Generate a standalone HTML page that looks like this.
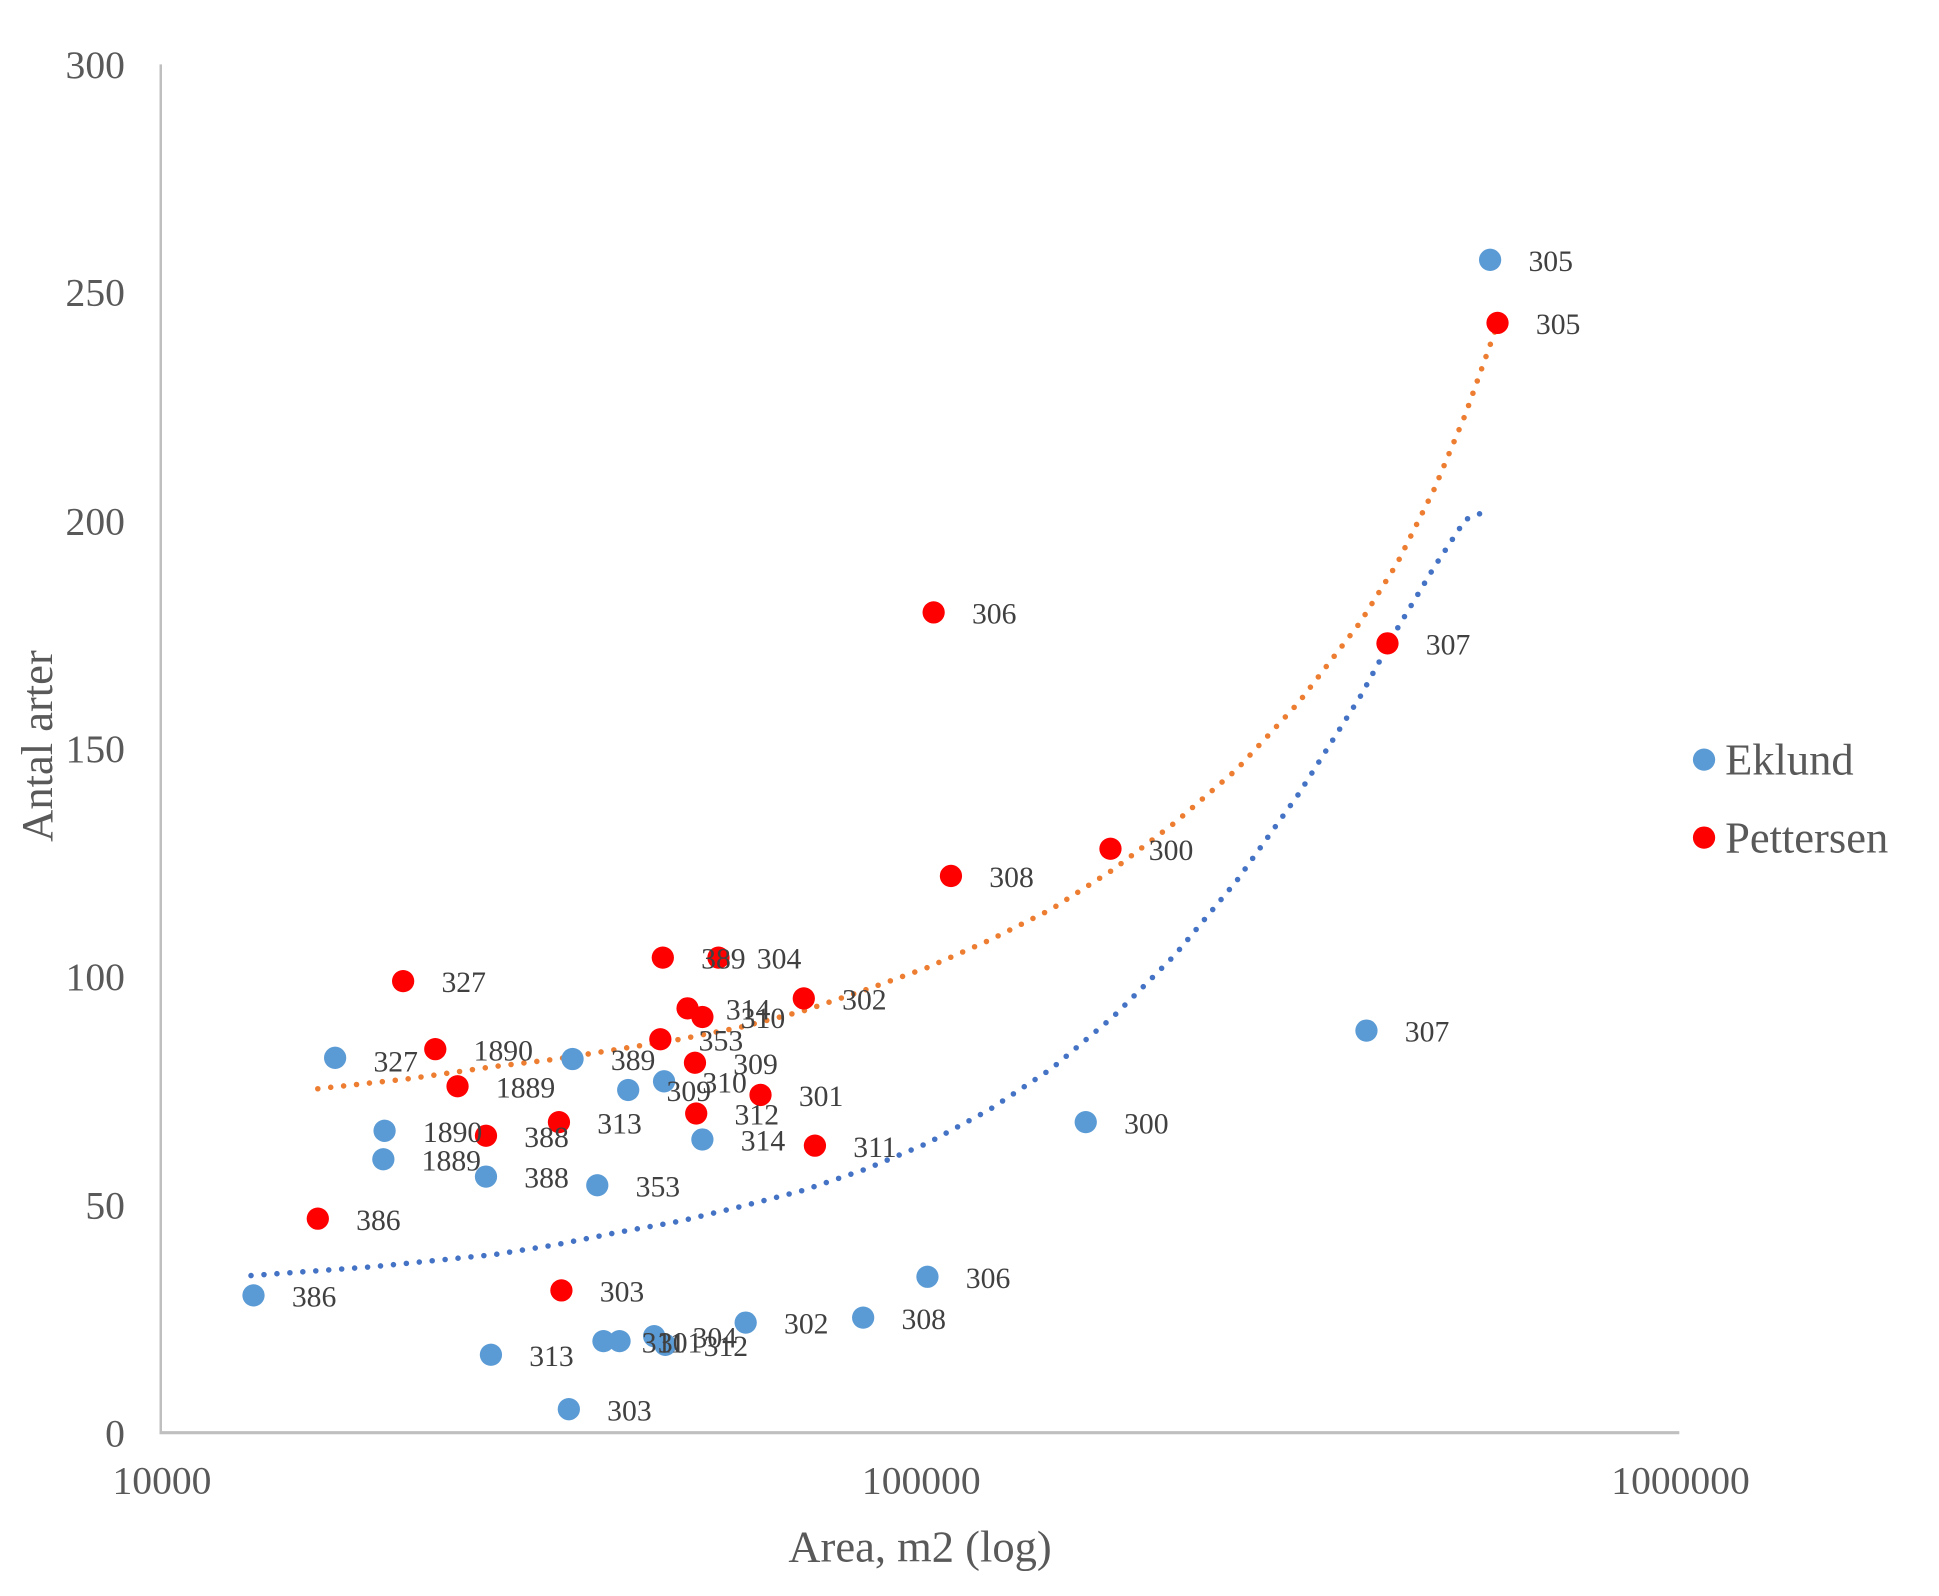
<!DOCTYPE html>
<html><head><meta charset="utf-8"><style>
html,body{margin:0;padding:0;background:#fff;}
svg{display:block;}
text{font-family:"Liberation Serif",serif;}
</style></head><body>
<svg width="1939" height="1596" viewBox="0 0 1568 1290" preserveAspectRatio="none" xmlns="http://www.w3.org/2000/svg">
<rect width="1568" height="1290" fill="#fff"/>
<line x1="130" y1="52" x2="130" y2="1159" stroke="#bfbfbf" stroke-width="2"/>
<line x1="129" y1="1158" x2="1358" y2="1158" stroke="#bfbfbf" stroke-width="2.5"/>
<g font-size="32" fill="#595959" text-anchor="end">
<text x="101" y="63">300</text>
<text x="101" y="247">250</text>
<text x="101" y="432">200</text>
<text x="101" y="616">150</text>
<text x="101" y="800">100</text>
<text x="101" y="985">50</text>
<text x="101" y="1169">0</text>
</g>
<g font-size="32" fill="#595959" text-anchor="middle">
<text x="131" y="1207">10000</text>
<text x="745" y="1207">100000</text>
<text x="1359" y="1207">1000000</text>
</g>
<text x="744" y="1262" font-size="36" fill="#595959" text-anchor="middle">Area, m2 (log)</text>
<text transform="translate(42,603) rotate(-90)" font-size="36" fill="#595959" text-anchor="middle">Antal arter</text>
<polyline fill="none" stroke="#ED7D31" stroke-width="4.5" stroke-linecap="round" stroke-dasharray="0 10.5" points="257,880 330,872 400,862 450,856 500,848 550,840 600,830 650,817 700,800 750,782 800,760 850,735 900,703 950,665 1000,622 1050,568 1100,503 1130,455 1160,395 1185,335 1211,262"/>
<polyline fill="none" stroke="#4472C4" stroke-width="4.5" stroke-linecap="round" stroke-dasharray="0 10.5" points="203,1031 300,1024 400,1014 450,1006 500,996 550,987 600,975 650,962 700,945 750,924 800,897 850,864 900,822 950,772 1000,712 1050,642 1100,563 1130,508 1160,458 1185,420 1202,413"/>
<g fill="#5B9BD5">
<circle cx="271" cy="855" r="9"/><circle cx="311" cy="914" r="9"/><circle cx="310" cy="937" r="9"/>
<circle cx="393" cy="951" r="9"/><circle cx="463" cy="856" r="9"/><circle cx="508" cy="881" r="9"/>
<circle cx="537" cy="874" r="9"/><circle cx="568" cy="921" r="9"/><circle cx="483" cy="958" r="9"/>
<circle cx="205" cy="1047" r="9"/><circle cx="397" cy="1095" r="9"/><circle cx="460" cy="1139" r="9"/>
<circle cx="488" cy="1084" r="9"/><circle cx="501" cy="1084" r="9"/><circle cx="529" cy="1080" r="9"/>
<circle cx="538" cy="1087" r="9"/><circle cx="603" cy="1069" r="9"/><circle cx="698" cy="1065" r="9"/>
<circle cx="750" cy="1032" r="9"/><circle cx="878" cy="907" r="9"/><circle cx="1105" cy="833" r="9"/>
<circle cx="1205" cy="210" r="9"/>
<circle cx="1378" cy="614" r="9"/>
</g>
<g fill="#FF0000">
<circle cx="326" cy="793" r="9"/><circle cx="352" cy="848" r="9"/><circle cx="370" cy="878" r="9"/>
<circle cx="393" cy="918" r="9"/><circle cx="452" cy="907" r="9"/><circle cx="257" cy="985" r="9"/>
<circle cx="454" cy="1043" r="9"/><circle cx="536" cy="774" r="9"/><circle cx="581" cy="774" r="9"/>
<circle cx="556" cy="815" r="9"/><circle cx="568" cy="822" r="9"/><circle cx="534" cy="840" r="9"/>
<circle cx="562" cy="859" r="9"/><circle cx="563" cy="900" r="9"/><circle cx="615" cy="885" r="9"/>
<circle cx="659" cy="926" r="9"/><circle cx="650" cy="807" r="9"/><circle cx="755" cy="495" r="9"/>
<circle cx="769" cy="708" r="9"/><circle cx="898" cy="686" r="9"/><circle cx="1122" cy="520" r="9"/>
<circle cx="1211" cy="261" r="9"/>
<circle cx="1378" cy="677" r="9"/>
</g>
<g font-size="24" fill="#404040">
<text x="302" y="866">327</text><text x="342" y="923">1890</text><text x="341" y="946">1889</text>
<text x="424" y="960">388</text><text x="494" y="865">389</text><text x="539" y="890">309</text>
<text x="568" y="883">310</text><text x="599" y="930">314</text><text x="514" y="967">353</text>
<text x="236" y="1056">386</text><text x="428" y="1104">313</text><text x="491" y="1148">303</text>
<text x="519" y="1093">311</text><text x="532" y="1093">301</text><text x="560" y="1089">304</text>
<text x="569" y="1096">312</text><text x="634" y="1078">302</text><text x="729" y="1074">308</text>
<text x="781" y="1041">306</text><text x="909" y="916">300</text><text x="1136" y="842">307</text>
<text x="1236" y="219">305</text>
<text x="357" y="802">327</text><text x="383" y="857">1890</text><text x="401" y="887">1889</text>
<text x="424" y="927">388</text><text x="483" y="916">313</text><text x="288" y="994">386</text>
<text x="485" y="1052">303</text><text x="567" y="783">389</text><text x="612" y="783">304</text>
<text x="587" y="824">314</text><text x="599" y="831">310</text><text x="565" y="849">353</text>
<text x="593" y="868">309</text><text x="594" y="909">312</text><text x="646" y="894">301</text>
<text x="690" y="935">311</text><text x="681" y="816">302</text><text x="786" y="504">306</text>
<text x="800" y="717">308</text><text x="929" y="695">300</text><text x="1153" y="529">307</text>
<text x="1242" y="270">305</text>
</g>
<g font-size="36" fill="#595959">
<text x="1395" y="626">Eklund</text>
<text x="1395" y="689">Pettersen</text>
</g>
</svg>
</body></html>
